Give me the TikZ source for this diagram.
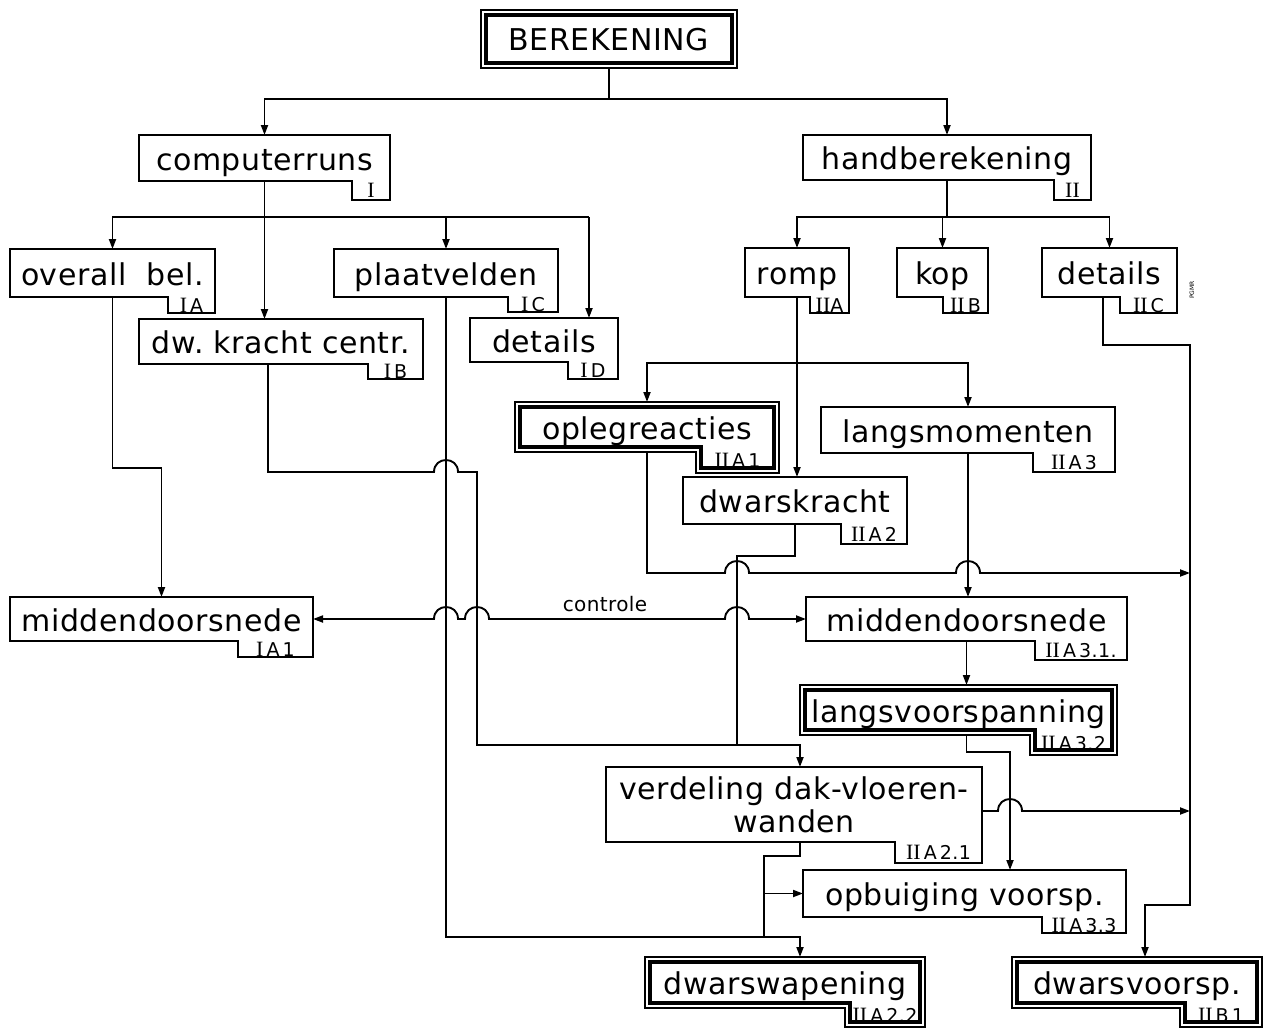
\documentclass[tikz,border=0pt]{standalone}
\usepackage{fontspec}
\setmainfont{DejaVu Sans}[LetterSpace=2]
\newfontfamily\numfont{Liberation Serif}[Scale=1.15]
\usetikzlibrary{arrows.meta}

\newcommand\rn[1]{{\numfont #1}}

\tikzset{
  boxtext/.style={inner sep=0pt, outer sep=0pt, font=\fontsize{30}{33}\selectfont,
                  text height=26pt, text depth=2pt, align=center},
  boxline/.style={line width=2.4pt, line join=miter},
  outerline/.style={line width=1.4pt, line join=miter},
  innerline/.style={line width=3.8pt, line join=miter},
  link/.style={line width=1.9pt},
  arr/.style={link, -{Triangle[length=10pt, width=7pt]}},
  twoway/.style={link, {Triangle[length=10pt, width=7pt]}-{Triangle[length=10pt, width=7pt]}},
  tagtext/.style={inner sep=0pt, font=\fontsize{19}{19}\selectfont},
  lbl/.style={inner sep=0pt, font=\fontsize{20}{20}\selectfont},
}

% Box with a tab at the lower right carrying its reference number.
% #1 name, #2 #3 #4 #5 main body (x1 y1 x2 y2), #6 tab left edge, #7 tab bottom, #8 text, #9 number
\newcommand\lbox[9]{%
  \node[boxtext, minimum width={#4-#2}, minimum height={#5-#3}] (#1) at ({(#2+#4)/2},{(#3+#5)/2}) {#8};
  \draw[boxline] (#2,#3) -- (#4,#3) -- (#4,#7) -- (#6,#7) -- (#6,#5) -- (#2,#5) -- cycle;
  \node[tagtext] (#1-nr) at ({(#6+#4)/2},{(#5+#7)/2}) {#9};
}
% Same outline, drawn as a thin outer line with a heavy inner line.
\newcommand\dlbox[9]{%
  \node[boxtext, minimum width={#4-#2}, minimum height={#5-#3}] (#1) at ({(#2+#4)/2},{(#3+#5)/2}) {#8};
  \draw[outerline] (#2,#3) -- (#4,#3) -- (#4,#7) -- (#6,#7) -- (#6,#5) -- (#2,#5) -- cycle;
  \draw[innerline] ({#2+5},{#3+5}) -- ({#4-5},{#3+5}) -- ({#4-5},{#7-5}) -- ({#6+5},{#7-5})
                   -- ({#6+5},{#5-5}) -- ({#2+5},{#5-5}) -- cycle;
  \node[tagtext] (#1-nr) at ({(#6+#4)/2},{(#5+#7)/2-2}) {#9};
}
% Semicircular hop of a horizontal line over a vertical one at x=#1, y=#2.
\newcommand\hop[2]{-- ({#1-12},#2) .. controls ({#1-12},{#2-16}) and ({#1+12},{#2-16}) .. ({#1+12},#2)}

\begin{document}
\begin{tikzpicture}[x=1pt, y=-1pt]
\fill[white] (0,0) rectangle (1266,1033);
\useasboundingbox (0,0) rectangle (1266,1033);

% ---- title ----
\node[boxtext, minimum width=256, minimum height=58] (ber) at (609,39) {BEREKENING};
\draw[outerline] (481,10) rectangle (737,68);
\draw[innerline] (486,15) rectangle (732,63);

% ---- boxes ----
\lbox{comp}{139}{135}{390}{181}{352}{200}{computerruns}{\rn{I}}
\lbox{hand}{803}{135}{1091}{180}{1054}{200}{handberekening}{\rn{II}}
\lbox{ovb}{10}{249}{215}{297}{168}{313}{overall\ \ bel.}{\rn{I}\,A}
\lbox{plv}{334}{249}{558}{297}{508}{312}{plaatvelden}{\rn{I}\,C}
\lbox{dwk}{139}{319}{423}{364}{368}{379}{dw.\ kracht\ centr.}{\rn{I}\,B}
\lbox{detI}{470}{318}{618}{362}{568}{379}{details}{\rn{I}\,D}
\lbox{romp}{745}{248}{849}{297}{810}{313}{romp}{\rn{II}A}
\lbox{kop}{897}{248}{988}{297}{943}{313}{kop}{\rn{II}\,B}
\lbox{detII}{1042}{248}{1177}{297}{1120}{313}{details}{\rn{II}\,C}
\dlbox{opl}{515}{402}{779}{452}{696}{473}{oplegreacties}{\rn{II}\,A\,1}
\lbox{lm}{821}{407}{1115}{453}{1033}{472}{langsmomenten}{\rn{II}\,A\,3}
\lbox{dwr}{683}{477}{907}{524}{841}{544}{dwarskracht}{\rn{II}\,A\,2}
\lbox{mdI}{10}{597}{313}{641}{238}{657}{middendoorsnede}{\rn{I}\,A\,1}
\lbox{mdII}{806}{597}{1127}{641}{1035}{660}{middendoorsnede}{\rn{II}\,A\,3.1.}
\dlbox{lvs}{800}{685}{1117}{735}{1030}{755}{langsvoorspanning}{\rn{II}\,A\,3.2}
\lbox{opb}{803}{870}{1126}{917}{1042}{933}{opbuiging\ voorsp.}{\rn{II}\,A\,3.3}
\dlbox{dwa}{645}{957}{925}{1008}{845}{1027}{dwarswapening}{\rn{II}\,A\,2.2}
\dlbox{dwv}{1012}{957}{1262}{1008}{1180}{1027}{dwarsvoorsp.}{\rn{II}\,B\,1}

% two-line box
\node[inner sep=0pt, outer sep=0pt, font=\fontsize{30}{33}\selectfont, align=center,
      minimum width=376, minimum height=75] (verd) at (794,804.5)
      {verdeling dak-vloeren-\\wanden};
\draw[boxline] (606,767) -- (982,767) -- (982,863) -- (895,863) -- (895,842) -- (606,842) -- cycle;
\node[tagtext] (verd-nr) at (938.5,852.5) {\rn{II}\,A\,2.1};

\node[inner sep=0pt, rotate=90, font=\fontsize{6}{6}\selectfont] (sig) at (1192,290) {PGMR};

% ---- column and row helpers ----
\coordinate (xa) at (268,0);
\coordinate (xb) at (800,0);
\coordinate (xc) at (966.5,0);
\coordinate (xd) at (1010,0);
\coordinate (xe) at (1145,0);
\coordinate (xf) at (1103,0);
\coordinate (xg) at (764,0);
\coordinate (ya) at (0,811);

% ---- connectors ----
\coordinate (t0) at (609,99);
\draw[link] (ber.south) -- (t0);
\draw[arr] (t0) -| (comp.north);
\draw[arr] (t0) -| (hand.north);

\coordinate (c3) at (589,217);
\draw[arr] (comp.south) -- (comp.south |- dwk.north);
\draw[arr] (c3) -| (ovb.north);
\draw[arr] (plv.north |- c3) -- (plv.north);
\draw[arr] (c3) -- (c3 |- detI.north);

\coordinate (h0) at (947,217);
\draw[link] (hand.south) -- (h0);
\draw[arr] (h0) -| (romp.north);
\draw[arr] (h0) -| (kop.north);
\draw[arr] (h0) -| (detII.north);

\coordinate (r0) at (797,363);
\draw[arr] (romp.south) -- (romp.south |- dwr.north);
\draw[arr] (r0) -| (opl.north);
\draw[arr] (r0) -| (lm.north);

\coordinate (k573) at (1190,573);
\draw[arr] (opl.south) -- (647,573) \hop{737}{573} \hop{968}{573} -- (k573);

\draw[arr] (lm.south) -- (lm.south |- mdII.north);

\coordinate (d0) at (737,745);
\draw[link] (dwr.south) -- (795,556) -| (d0);

\draw[arr] (dwk.south -| xa) -- (268,472) \hop{446}{472} -- (477,472) -- (477,745) -- (800,745) -- (verd.north -| xb);

\draw[arr] (plv.south) -- (446,937) -- (800,937) -- (dwa.north -| xb);

\draw[arr] (ovb.south) -- ++(0,171) -| (mdI.north);

\draw[twoway] (mdI.east) \hop{446}{619} \hop{477}{619} \hop{737}{619} -- (mdII.west);
\node[lbl] (ctl) at (605,604) {controle};

\draw[arr] (mdII.south) -- (mdII.south |- lvs.north);
\draw[arr] (lvs.south -| xc) -- (966.5,752) -| (opb.north -| xd);

\coordinate (k811) at (1190,811);
\draw[arr] (verd.east |- ya) \hop{1010}{811} -- (k811);

\draw[link] (verd.south -| xb) -- (800,856) -- (764,856) -- (764,937);
\draw[arr] (opb.west -| xg) -- (opb.west);

\draw[arr] (detII.south -| xf) -- (1103,345) -- (1190,345) -- (1190,905) -| (dwv.north -| xe);

\end{tikzpicture}
\end{document}
